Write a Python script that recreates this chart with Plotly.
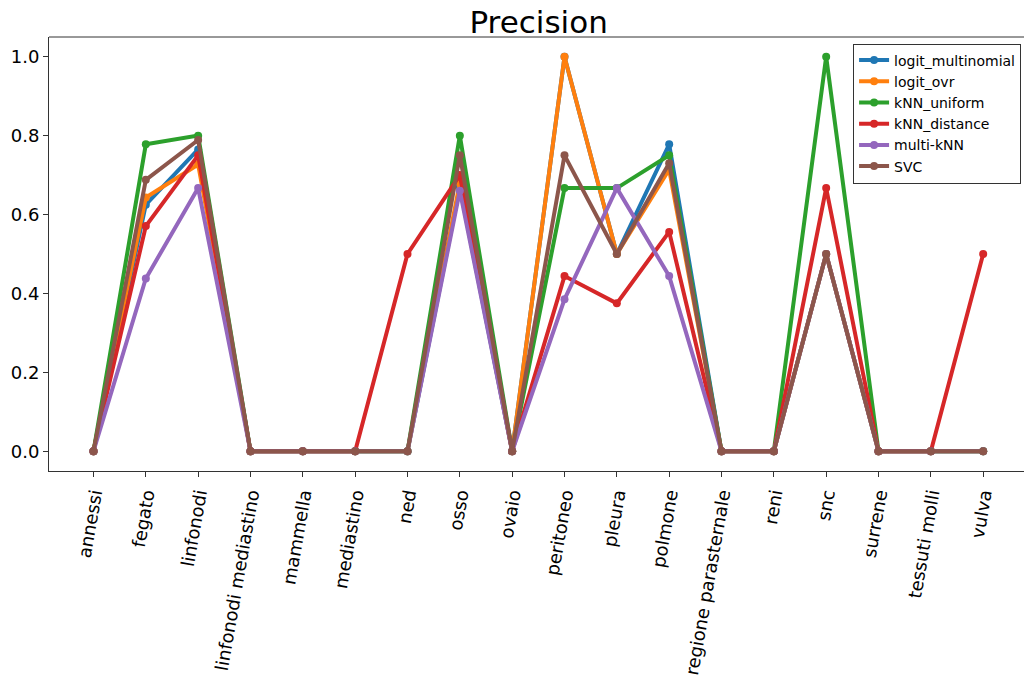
import plotly.graph_objects as go

# Per-site precision scores for each classifier
sites = [
    "annessi", "fegato", "linfonodi", "linfonodi mediastino", "mammella",
    "mediastino", "ned", "osso", "ovaio", "peritoneo", "pleura", "polmone",
    "regione parasternale", "reni", "snc", "surrene", "tessuti molli", "vulva",
]

logit_multinomial = [0, 0.625, 0.765, 0, 0, 0, 0, 0.67, 0, 1.0, 0.5, 0.778, 0, 0, 0.5, 0, 0, 0]
logit_ovr = [0, 0.643, 0.727, 0, 0, 0, 0, 0.68, 0, 1.0, 0.5, 0.714, 0, 0, 0.5, 0, 0, 0]
knn_uniform = [0, 0.778, 0.8, 0, 0, 0, 0, 0.8, 0, 0.667, 0.667, 0.75, 0, 0, 1.0, 0, 0, 0]
knn_distance = [0, 0.571, 0.75, 0, 0, 0, 0.5, 0.7, 0, 0.444, 0.375, 0.556, 0, 0, 0.667, 0, 0, 0.5]
multi_knn = [0, 0.438, 0.667, 0, 0, 0, 0, 0.66, 0, 0.385, 0.667, 0.444, 0, 0, 0.5, 0, 0, 0]
svc = [0, 0.688, 0.789, 0, 0, 0, 0, 0.75, 0, 0.75, 0.5, 0.73, 0, 0, 0.5, 0, 0, 0]

series = [
    ("logit_multinomial", logit_multinomial, "#1f77b4"),
    ("logit_ovr", logit_ovr, "#ff7f0e"),
    ("kNN_uniform", knn_uniform, "#2ca02c"),
    ("kNN_distance", knn_distance, "#d62728"),
    ("multi-kNN", multi_knn, "#9467bd"),
    ("SVC", svc, "#8c564b"),
]

y_ticks = [0.0, 0.2, 0.4, 0.6, 0.8, 1.0]

fig = go.Figure()
for name, vals, color in series:
    fig.add_trace(go.Scatter(
        x=sites, y=vals, name=name, mode="lines+markers",
        line=dict(color=color, width=4),
        marker=dict(color=color, size=8),
    ))

font_family = "DejaVu Sans"

fig.update_layout(
    width=1024, height=679,
    margin=dict(l=49, r=0, t=37, b=208, pad=0),
    paper_bgcolor="white", plot_bgcolor="white",
    font=dict(family=font_family, color="black"),
    title=dict(text="Precision", x=0.526, xanchor="center", y=0.967, yanchor="middle",
               font=dict(size=31, family=font_family, color="black")),
    showlegend=True,
    legend=dict(
        x=0.997, y=0.985, xanchor="right", yanchor="top",
        bgcolor="rgba(255,255,255,0.85)", bordercolor="#333333", borderwidth=1,
        font=dict(size=14, family=font_family, color="black"),
        tracegroupgap=0, itemwidth=30,
    ),
    xaxis=dict(
        type="category", range=[-0.85, 17.78],
        showline=True, linecolor="#333333", linewidth=1,
        ticks="outside", ticklen=5, tickcolor="#333333",
        tickangle=-80, tickfont=dict(size=18, family=font_family, color="black"),
        showgrid=False, zeroline=False,
    ),
    yaxis=dict(
        range=[-0.05, 1.05], tickvals=y_ticks, tickformat=".1f",
        showline=True, linecolor="#333333", linewidth=1,
        ticks="outside", ticklen=5, tickcolor="#333333",
        tickfont=dict(size=18, family=font_family, color="black"),
        showgrid=False, zeroline=False,
    ),
    shapes=[dict(type="line", xref="paper", yref="paper", x0=0, x1=1, y0=1, y1=1,
                 line=dict(color="#333333", width=1))],
)

fig.write_html("out.html")
